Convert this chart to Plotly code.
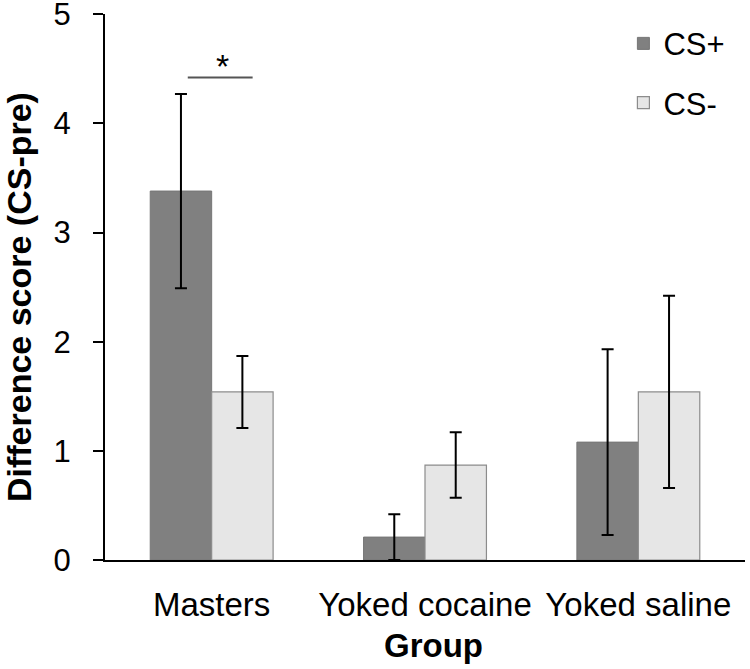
import plotly.graph_objects as go

groups = ["Masters", "Yoked cocaine", "Yoked saline"]
cs_plus = [3.38, 0.21, 1.08]
cs_plus_err = [0.89, 0.21, 0.85]
cs_minus = [1.54, 0.87, 1.54]
cs_minus_err = [0.33, 0.30, 0.88]

FONT = "Liberation Sans, Arial, sans-serif"

fig = go.Figure()

fig.add_trace(go.Bar(
    name="CS+",
    x=groups,
    y=cs_plus,
    error_y=dict(type="data", array=cs_plus_err, color="black", thickness=2, width=6),
    marker=dict(color="#808080", line=dict(color="#767676", width=1)),
    legendgroup="a",
))
fig.add_trace(go.Bar(
    name="CS-",
    x=groups,
    y=cs_minus,
    error_y=dict(type="data", array=cs_minus_err, color="black", thickness=2, width=6),
    marker=dict(color="#e6e6e6", line=dict(color="#8c8c8c", width=1.2)),
    legendgroup="b",
))

# significance bracket over Masters
fig.add_shape(type="line", xref="x", yref="y", x0=-0.112, x1=0.192, y0=4.42, y1=4.42,
              line=dict(color="#555555", width=2))
fig.add_annotation(x=0.05, y=4.42, xref="x", yref="y", text="*", showarrow=False,
                   yanchor="bottom", yshift=-9, font=dict(size=34, color="black", family=FONT))

# axis titles as annotations so they sit where the original puts them
fig.add_annotation(x=-0.134, y=0.482, xref="paper", yref="paper",
                   text="<b>Difference score (CS-pre)</b>", textangle=-90, showarrow=False,
                   xanchor="center", yanchor="middle", font=dict(size=34, family=FONT))
fig.add_annotation(x=0.514, y=-0.119, xref="paper", yref="paper",
                   text="<b>Group</b>", showarrow=False,
                   xanchor="center", yanchor="top", font=dict(size=33, family=FONT))

fig.update_layout(
    width=750,
    height=669,
    margin=dict(l=105, r=5, t=14, b=109),
    paper_bgcolor="white",
    plot_bgcolor="white",
    font=dict(family=FONT, color="black"),
    barmode="group",
    bargap=0.424,
    bargroupgap=0,
    showlegend=True,
    legend=dict(
        x=0.81, y=0.995, xanchor="left", yanchor="top",
        font=dict(size=31, family=FONT),
        traceorder="grouped", tracegroupgap=16,
        bgcolor="rgba(0,0,0,0)",
    ),
    xaxis=dict(
        range=[-0.5, 2.5],
        automargin=False,
        showline=True, linecolor="black", linewidth=2,
        ticks="", tickfont=dict(size=33, family=FONT),
        ticklabelstandoff=14,
    ),
    yaxis=dict(
        range=[0, 5.002],
        automargin=False,
        tickvals=[0, 1, 2, 3, 4, 5],
        showline=True, linecolor="black", linewidth=2,
        ticks="outside", ticklen=10, tickwidth=2, tickcolor="black",
        tickfont=dict(size=31, family=FONT),
        ticklabelstandoff=16,
        ticklabeloverflow="allow",
        showgrid=False, zeroline=False,
    ),
)

# drop the browser's default body margin so the figure fills the window
fig.write_html("out.html", config={"displayModeBar": False},
               post_script="document.body.style.margin='0';")
